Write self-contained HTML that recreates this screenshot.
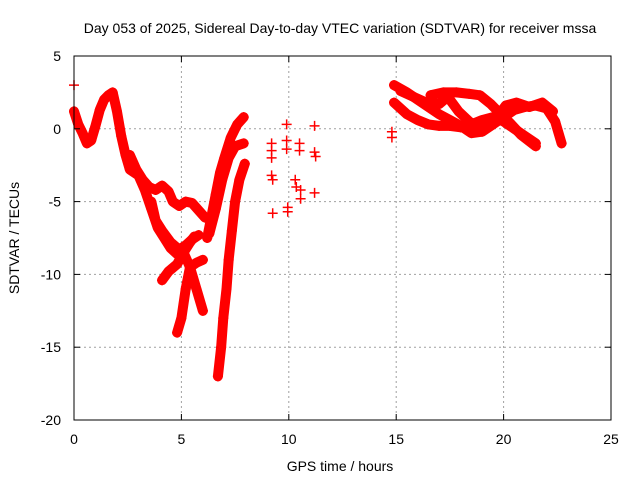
<!DOCTYPE html>
<html><head><meta charset="utf-8"><style>
body{margin:0;background:#fff;}
svg{display:block;font-family:"Liberation Sans",sans-serif;}
</style></head><body>
<svg id="chart" width="640" height="480" viewBox="0 0 640 480">
<rect width="640" height="480" fill="#fff"/>
<text x="340" y="33" font-size="14" text-anchor="middle">Day 053 of 2025, Sidereal Day-to-day VTEC variation (SDTVAR) for receiver mssa</text>
<g id="grid"></g>
<g id="marks"></g>
<g id="axes"></g>
<text x="340" y="471" font-size="14" text-anchor="middle">GPS time / hours</text>
<text transform="translate(19,238) rotate(-90)" font-size="14" text-anchor="middle">SDTVAR / TECUs</text>
</svg>
<script>
const xTicks=[0,5,10,15,20,25];
const yTicks=[5,0,-5,-10,-15,-20];
const track1=[[0,1.2],[0.2,0.3],[0.4,-0.3],[0.6,-1.0],[0.8,-0.8],[1.0,0.2],[1.2,1.3],[1.4,2.0],[1.6,2.3],[1.8,2.5],[2.0,1.2],[2.2,-0.5],[2.4,-1.8],[2.6,-2.8],[2.8,-3.0],[3.0,-3.2],[3.3,-4.2],[3.6,-5.5],[3.9,-6.8],[4.2,-7.5],[4.5,-8.2],[4.8,-8.6],[5.1,-8.5],[5.4,-9.5],[5.7,-11.0],[6.0,-12.5]];
const track2=[[2.6,-1.8],[2.9,-2.8],[3.2,-3.5],[3.5,-4.0],[3.8,-4.2],[4.1,-3.9],[4.4,-4.3],[4.6,-5.0],[4.9,-5.3],[5.2,-5.0],[5.5,-5.1],[5.8,-5.6],[6.1,-6.1]];
const track3=[[3.6,-5.0],[3.8,-6.3],[4.1,-7.0],[4.5,-7.8],[4.9,-8.3],[5.2,-8.0],[5.5,-7.6],[5.8,-7.3]];
const track4=[[4.1,-10.4],[4.4,-9.8],[4.8,-9.3],[5.1,-8.5],[5.4,-7.8],[5.6,-7.4]];
const track5=[[4.8,-14.0],[5.0,-13.0],[5.2,-11.0],[5.4,-9.5],[5.7,-9.2],[6.0,-9.0]];
const track6=[[6.2,-7.5],[6.4,-6.0],[6.6,-4.5],[6.8,-3.0],[7.0,-2.0],[7.3,-0.6],[7.6,0.3],[7.9,0.8]];
const track7=[[6.3,-7.2],[6.6,-5.5],[6.9,-3.5],[7.2,-2.0],[7.5,-1.2],[7.9,-1.0]];
const track8=[[6.7,-17.0],[6.85,-15.0],[6.95,-13.0],[7.1,-11.0],[7.2,-9.0],[7.35,-7.0],[7.5,-5.0],[7.7,-3.5],[7.95,-2.4]];
const track9=[[14.9,3.0],[15.5,2.5],[16.0,2.0],[16.5,1.5],[17.0,1.0],[17.5,0.6],[18.0,0.2],[18.5,-0.3],[19.0,-0.2],[19.5,0.3],[20.0,0.8],[20.5,1.3],[21.0,1.5],[21.5,1.6],[22.0,1.4],[22.4,0.5],[22.7,-1.0]];
const track10=[[14.9,1.8],[15.5,1.0],[16.0,0.6],[16.5,0.3],[17.0,0.2],[17.5,0.2],[18.0,0.1],[18.5,0.3],[19.0,0.6],[19.5,0.8],[20.0,0.5],[20.5,0.0],[21.0,-0.5],[21.5,-1.0]];
const track11=[[16.6,2.3],[17.2,2.5],[17.8,2.5],[18.4,2.4],[18.9,2.3],[19.4,1.7],[19.8,1.1],[20.3,0.4],[20.8,-0.4],[21.5,-1.2]];
const track12=[[15.2,2.6],[15.8,2.2],[16.4,1.8],[17.0,1.7],[17.4,2.2],[17.9,1.2],[18.4,0.5],[18.9,0.0],[19.5,0.4],[20.1,1.6],[20.6,1.8],[21.2,1.5],[21.8,1.8],[22.3,1.2]];
const tracks=[track1,track2,track3,track4,track5,track6,track7,track8,track9,track10,track11,track12];
const scatterT=[0.0,0.0,9.2,9.2,9.2,9.2,9.25,9.25,9.9,9.9,9.9,9.95,9.95,10.3,10.35,10.5,10.5,10.55,10.55,11.2,11.2,11.2,11.25,14.8,14.8];
const scatterV=[3.0,1.2,-1.0,-1.5,-2.0,-3.2,-3.5,-5.8,0.3,-0.8,-1.4,-5.4,-5.7,-3.5,-4.0,-1.0,-1.5,-4.2,-4.8,0.2,-1.6,-4.4,-1.9,-0.2,-0.6];
const X0=74,X1=611,Y0=56,Y1=420;
const xs=t=>X0+(t-0)/25*(X1-X0);
const ys=v=>Y0+(5-v)/25*(Y1-Y0);
const NS='http://www.w3.org/2000/svg';
function mk(tag,attrs,parent){const e=document.createElementNS(NS,tag);for(const k in attrs)e.setAttribute(k,attrs[k]);parent.appendChild(e);return e;}
const grid=document.getElementById('grid'),axes=document.getElementById('axes'),marks=document.getElementById('marks');
xTicks.forEach(t=>{
  if(t>0&&t<25){const g=mk('line',{x1:xs(t),x2:xs(t),y1:Y0,y2:Y1,stroke:'#a0a0a0','stroke-dasharray':'2,3','stroke-width':1},grid);
  
  }
  const l=mk('text',{x:xs(t),y:444,'font-size':14,'text-anchor':'middle'},axes);l.textContent=t;
  
  
  mk('line',{x1:xs(t),x2:xs(t),y1:Y1,y2:Y1-6,stroke:'#000'},axes);
  mk('line',{x1:xs(t),x2:xs(t),y1:Y0,y2:Y0+6,stroke:'#000'},axes);
});
yTicks.forEach(v=>{
  if(v<5&&v>-20){const g=mk('line',{x1:X0,x2:X1,y1:ys(v),y2:ys(v),stroke:'#a0a0a0','stroke-dasharray':'2,3','stroke-width':1},grid);
  
  }
  const l=mk('text',{x:61,y:ys(v)+5,'font-size':14,'text-anchor':'end'},axes);l.textContent=v;
  
  
  mk('line',{x1:X0,x2:X0+6,y1:ys(v),y2:ys(v),stroke:'#000'},axes);
  mk('line',{x1:X1,x2:X1-6,y1:ys(v),y2:ys(v),stroke:'#000'},axes);
});
const frame=mk('rect',{x:X0,y:Y0,width:X1-X0,height:Y1-Y0,fill:'none',stroke:'#000','stroke-width':1},axes);


function plus(x,y,parent){mk('path',{d:`M${x-5},${y}h10M${x},${y-5}v10`,stroke:'#f00','stroke-width':1.5},parent);}
tracks.forEach((tr,i)=>{
  const g=mk('g',{},marks);
  
  
  mk('polyline',{points:tr.map(p=>xs(p[0])+','+ys(p[1])).join(' '),fill:'none',stroke:'#f00','stroke-width':10,'stroke-linejoin':'round','stroke-linecap':'round'},g);
  tr.forEach(p=>plus(xs(p[0]),ys(p[1]),g));
});
const sg=mk('g',{},marks);


scatterT.forEach((t,i)=>plus(xs(t),ys(scatterV[i]),sg));
</script>
</body></html>
